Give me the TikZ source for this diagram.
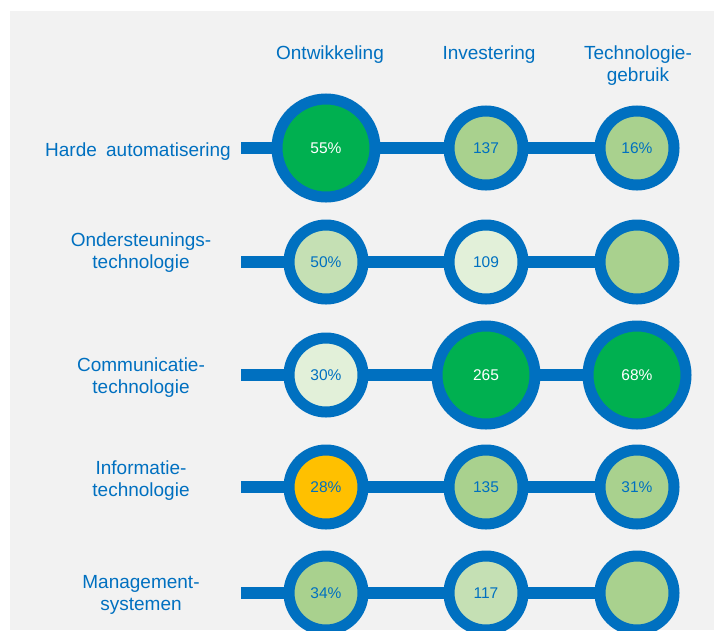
\documentclass[tikz,border=0pt]{standalone}
\usepackage{fontspec}
\setmainfont{Liberation Sans}
\usetikzlibrary{backgrounds}

\definecolor{ringblue}{HTML}{0070C0}
\definecolor{darkgreen}{HTML}{00B050}
\definecolor{midgreen}{HTML}{A9D18E}
\definecolor{palegreen}{HTML}{C5E0B4}
\definecolor{lightgreen}{HTML}{E2F0D9}
\definecolor{amber}{HTML}{FFC000}
\definecolor{bggrey}{HTML}{F2F2F2}

\tikzset{
  smallring/.style = {circle, draw = ringblue, line width = 11pt, minimum size = 74pt,
    inner sep = 0pt, text = ringblue, font = \fontsize{15.5}{18}\selectfont},
  bigring/.style = {smallring, minimum size = 98pt, fill = darkgreen, text = white},
  link/.style = {ringblue, line width = 12pt},
  rowlabel/.style = {align = center, inner sep = 0pt, text = ringblue,
    font = \fontsize{19}{22}\selectfont},
}

\begin{document}
\begin{tikzpicture}[x = 1pt, y = -1pt]

\useasboundingbox (0,0) rectangle (714,630);

% column heads
\node[rowlabel] (hdev) at (330,55) {Ontwikkeling};
\node[rowlabel] (hinv) at (489,55) {Investering};
\node[rowlabel] (huse) at (638,66) {Technologie-\\gebruik};

% row labels
\node[rowlabel] (l1) at (138,152) {Harde\hspace{4pt} automatisering};
\node[rowlabel] (l2) at (141,253) {Ondersteunings-\\technologie};
\node[rowlabel] (l3) at (141,378) {Communicatie-\\technologie};
\node[rowlabel] (l4) at (141,481) {Informatie-\\technologie};
\node[rowlabel] (l5) at (141,595) {Management-\\systemen};

\foreach \i/\y in {1/148,2/262,3/375,4/487,5/593} {\coordinate (s\i) at (241,\y);}

% Ontwikkeling
\node[bigring] (o1) at (326,148) {55\%};
\node[smallring, fill = palegreen] (o2) at (326,262) {50\%};
\node[smallring, fill = lightgreen] (o3) at (326,375) {30\%};
\node[smallring, fill = amber] (o4) at (326,487) {28\%};
\node[smallring, fill = midgreen] (o5) at (326,593) {34\%};

% Investering
\node[smallring, fill = midgreen] (i1) at (486,148) {137};
\node[smallring, fill = lightgreen] (i2) at (486,262) {109};
\node[bigring] (i3) at (486,375) {265};
\node[smallring, fill = midgreen] (i4) at (486,487) {135};
\node[smallring, fill = palegreen] (i5) at (486,593) {117};

% Technologiegebruik
\node[smallring, fill = midgreen] (t1) at (637,148) {16\%};
\node[smallring, fill = midgreen] (t2) at (637,262) {};
\node[bigring] (t3) at (637,375) {68\%};
\node[smallring, fill = midgreen] (t4) at (637,487) {31\%};
\node[smallring, fill = midgreen] (t5) at (637,593) {};

\begin{scope}[on background layer]
\fill[bggrey] (10,11) rectangle (714,630);
\foreach \i in {1,...,5} {\draw[link] (s\i) -- (o\i.center) -- (i\i.center) -- (t\i.center);}
\end{scope}

\end{tikzpicture}
\end{document}
